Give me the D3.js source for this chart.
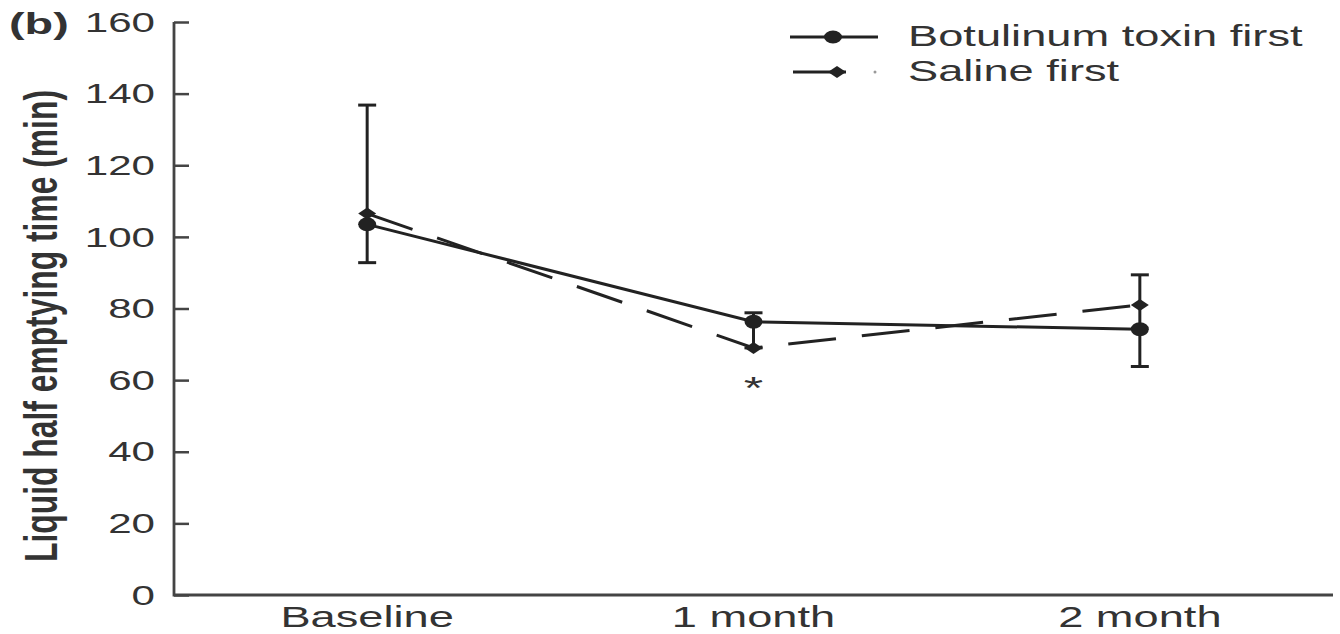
<!DOCTYPE html>
<html>
<head>
<meta charset="utf-8">
<script src="https://cdn.jsdelivr.net/npm/d3@7"></script>
<style>
  html, body { margin: 0; padding: 0; background: #fff; }
  svg { display: block; }
  text { font-family: "Liberation Sans", Arial, sans-serif; fill: #333; }
</style>
</head>
<body>
<svg id="chart" width="1340" height="634"></svg>
<script>
// ---- data ----
const categories = ["Baseline", "1 month", "2 month"];
const botulinumFirst = [103.5, 76.3, 74.2];
const salineFirst = [106.5, 69.0, 81.0];
const errLow = [92.8, 69.0, 63.8];
const errHigh = [136.8, 78.8, 89.4];
const yTicks = [0, 20, 40, 60, 80, 100, 120, 140, 160];
const seriesNames = ["Botulinum toxin first", "Saline first"];
const yLabel = "Liquid half emptying time (min)";
const panelLabel = "(b)";

// ---- layout ----
const SX = 1.56; // horizontal stretch of the original picture
const axisLeft = 174, axisRight = 1333, axisTop = 22, axisBottom = 595;
const ink = "#222";

const svg = d3.select("#chart");
const x = d3.scalePoint().domain(categories).range([axisLeft, axisRight]).padding(0.5);
const y = d3.scaleLinear().domain([0, 160]).range([axisBottom, axisTop]);

// axes
const gy = svg.append("g").attr("transform", `translate(${axisLeft},0)`)
  .call(d3.axisRight(y).tickValues(yTicks).tickSize(15).tickFormat(""));
gy.select(".domain").remove();
gy.selectAll(".tick line").attr("stroke", "#444").attr("stroke-width", 2.5);
svg.append("path")
  .attr("d", `M${axisLeft},${axisTop}V${axisBottom}H${axisRight}`)
  .attr("fill", "none").attr("stroke", "#444").attr("stroke-width", 2.8);

// y tick labels
svg.append("g").selectAll("text").data(yTicks).join("text")
  .attr("transform", d => `translate(155,${y(d)}) scale(${SX},1)`)
  .attr("text-anchor", "end").attr("dy", "0.36em")
  .style("font-size", "27px")
  .text(d => d);

// x labels
svg.append("g").selectAll("text").data(categories).join("text")
  .attr("transform", d => `translate(${x(d)},627) scale(${SX},1)`)
  .attr("text-anchor", "middle")
  .style("font-size", "29px")
  .text(d => d);

// panel label
svg.append("text")
  .attr("transform", `translate(9,34) scale(${SX},1)`)
  .style("font-size", "30px").style("font-weight", "bold")
  .text(panelLabel);

// y label
svg.append("text")
  .attr("transform", `translate(57,326) scale(${SX},1) rotate(-90)`)
  .attr("text-anchor", "middle")
  .style("font-size", "30px").style("font-weight", "bold")
  .attr("textLength", 472).attr("lengthAdjust", "spacingAndGlyphs")
  .text(yLabel);

// error bars
const capW = 18;
const eg = svg.append("g").attr("stroke", ink).attr("stroke-width", 3).attr("fill", "none");
categories.forEach((c, i) => {
  const cx = x(c);
  eg.append("line").attr("x1", cx).attr("x2", cx).attr("y1", y(errLow[i])).attr("y2", y(errHigh[i]));
  eg.append("line").attr("x1", cx - capW / 2).attr("x2", cx + capW / 2).attr("y1", y(errLow[i])).attr("y2", y(errLow[i]));
  eg.append("line").attr("x1", cx - capW / 2).attr("x2", cx + capW / 2).attr("y1", y(errHigh[i])).attr("y2", y(errHigh[i]));
});

// lines
const line = d3.line().x((d, i) => x(categories[i])).y(d => y(d));
svg.append("path").datum(botulinumFirst).attr("d", line)
  .attr("fill", "none").attr("stroke", ink).attr("stroke-width", 3);
svg.append("path").datum(salineFirst).attr("d", line)
  .attr("fill", "none").attr("stroke", ink).attr("stroke-width", 3)
  .attr("stroke-dasharray", "48,26");

// markers
const diamond = (cx, cy) => `M${cx - 9},${cy}L${cx},${cy - 6}L${cx + 9},${cy}L${cx},${cy + 6}Z`;
svg.append("g").selectAll("ellipse").data(botulinumFirst).join("ellipse")
  .attr("cx", (d, i) => x(categories[i])).attr("cy", d => y(d))
  .attr("rx", 9).attr("ry", 7).attr("fill", ink);
svg.append("g").selectAll("path").data(salineFirst).join("path")
  .attr("d", (d, i) => diamond(x(categories[i]), y(d))).attr("fill", ink);

// significance asterisk
svg.append("text")
  .attr("transform", `translate(${x(categories[1])},399) scale(${SX},1)`)
  .attr("text-anchor", "middle").style("font-size", "32px")
  .text("*");

// legend
const lg = svg.append("g");
lg.append("line").attr("x1", 790).attr("x2", 878).attr("y1", 37).attr("y2", 37)
  .attr("stroke", ink).attr("stroke-width", 3);
lg.append("ellipse").attr("cx", 833).attr("cy", 37).attr("rx", 9).attr("ry", 6.5).attr("fill", ink);
lg.append("line").attr("x1", 793).attr("x2", 846).attr("y1", 72).attr("y2", 72)
  .attr("stroke", ink).attr("stroke-width", 3);
lg.append("path").attr("d", diamond(837, 72)).attr("fill", ink);
lg.append("circle").attr("cx", 875).attr("cy", 72).attr("r", 1.5).attr("fill", "#999");
lg.selectAll("text.lab").data(seriesNames).join("text").attr("class", "lab")
  .attr("transform", (d, i) => `translate(908,${i === 0 ? 46 : 81}) scale(${SX},1)`)
  .style("font-size", "29px")
  .text(d => d);
</script>
</body>
</html>
